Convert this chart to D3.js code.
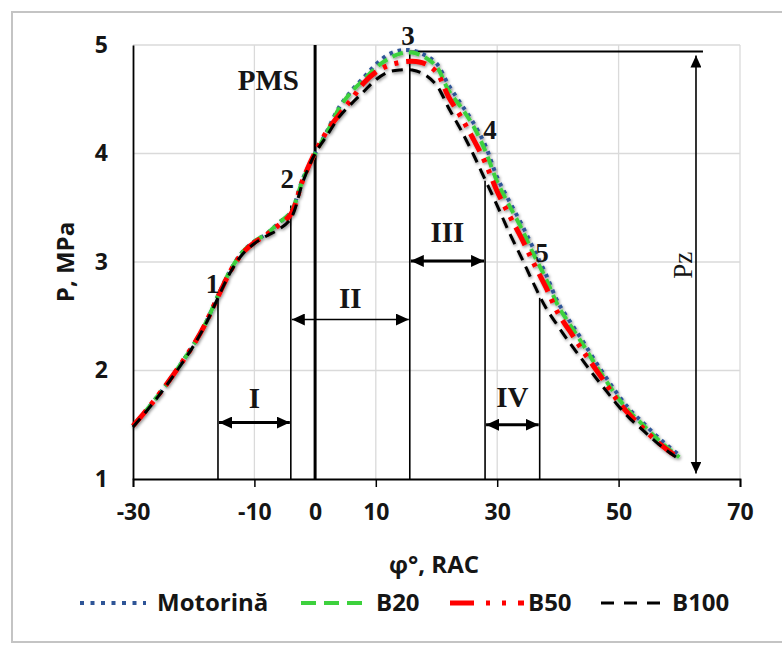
<!DOCTYPE html>
<html><head><meta charset="utf-8">
<script src="https://cdn.jsdelivr.net/npm/d3@7"></script>
<style>
html,body{margin:0;padding:0;background:#fff;}
svg{display:block;}
.lab{font-family:"Open Sans",sans-serif;font-weight:700;fill:#151515;}
.ser{font-family:"Liberation Serif","Times New Roman",serif;font-weight:700;fill:#151515;}
</style></head>
<body>
<svg id="c" width="782" height="646"></svg>
<script>
// ---- data ----
const phi = [-30,-28,-26,-24,-22,-20,-18,-16,-14,-12,-10,-8,-6,-4,-2,0,
  2,4,6,8,10,12,14,16,18,20,22,24,26,28,30,32,34,36,38,40,42,44,46,48,50,52,54,56,58,60];
const motorina = [1.49,1.62,1.76,1.91,2.07,2.24,2.44,2.69,2.92,3.09,3.19,3.26,3.36,3.46,3.77,4.00,
  4.21,4.43,4.58,4.70,4.82,4.91,4.95,4.95,4.91,4.83,4.63,4.46,4.29,4.08,3.78,3.56,3.35,3.12,2.89,2.63,2.45,2.28,2.10,1.93,1.77,1.63,1.52,1.41,1.31,1.22];
const b20 = [1.49,1.62,1.76,1.91,2.07,2.24,2.44,2.69,2.92,3.09,3.19,3.26,3.36,3.46,3.76,4.00,
  4.20,4.42,4.57,4.68,4.79,4.87,4.92,4.93,4.89,4.80,4.58,4.43,4.26,4.03,3.74,3.52,3.31,3.07,2.85,2.60,2.42,2.25,2.07,1.90,1.74,1.61,1.50,1.39,1.29,1.20];
const b50 = [1.49,1.62,1.76,1.91,2.07,2.24,2.44,2.68,2.91,3.08,3.18,3.25,3.34,3.44,3.76,4.01,
  4.21,4.36,4.50,4.65,4.75,4.81,4.84,4.85,4.83,4.75,4.52,4.34,4.14,3.92,3.65,3.43,3.22,2.99,2.77,2.53,2.36,2.19,2.03,1.87,1.71,1.58,1.47,1.36,1.27,1.19];
const b100 = [1.48,1.61,1.75,1.90,2.06,2.23,2.43,2.67,2.90,3.07,3.17,3.24,3.30,3.40,3.74,4.00,
  4.17,4.34,4.46,4.57,4.68,4.75,4.77,4.77,4.73,4.63,4.42,4.22,4.00,3.76,3.52,3.27,3.04,2.80,2.58,2.41,2.25,2.10,1.95,1.81,1.67,1.55,1.45,1.35,1.26,1.18];
const seriesNames = ["Motorină","B20","B50","B100"];
const xTicks = [-30,-10,0,10,30,50,70];
const xGrid = [-10,10,30,50,70];
const yTicks = [1,2,3,4,5];
// annotation points (phase boundaries)
const markPhi = [-16,-4,15.6,28,37];
const markP = [2.70,3.52,4.94,3.75,2.67];
const markLabels = ["1","2","3","4","5"];
const markLabelPhi = [-16.9,-4.6,15.3,28.8,37.4];
const markLabelP = [2.80,3.77,5.09,4.22,3.09];
const phaseNames = ["I","II","III","IV"];
const phaseFrom = [-16,-4,15.6,28];
const phaseTo = [-4,15.6,28,37];
const phaseP = [1.52,2.47,3.01,1.50];
const phaseLabelP = [1.75,2.67,3.28,1.76];
const pzPhi = 62.75, pzTop = 4.94, pzBottom = 1.05, pzLineEnd = 63.9;

// ---- chart ----
const svg = d3.select("#c");
const x = d3.scaleLinear().domain([-30,70]).range([133,740]);
const y = d3.scaleLinear().domain([1,5]).range([479,45]);
const fmt = d => String(d);

svg.append("rect").attr("x",12).attr("y",12).attr("width",800).attr("height",630)
  .attr("fill","none").attr("stroke","#C4C4C4").attr("stroke-width",2);

const defs = svg.append("defs");
const f = defs.append("filter").attr("id","sh").attr("x","-10%").attr("y","-10%").attr("width","120%").attr("height","120%");
f.append("feDropShadow").attr("dx",1).attr("dy",1.5).attr("stdDeviation",1.6).attr("flood-color","#000").attr("flood-opacity",0.45);
function marker(id, len, wid){
  const m = defs.append("marker").attr("id",id).attr("markerUnits","userSpaceOnUse")
    .attr("viewBox",`0 0 ${len} ${wid}`).attr("refX",len).attr("refY",wid/2)
    .attr("markerWidth",len).attr("markerHeight",wid).attr("orient","auto-start-reverse");
  m.append("path").attr("d",`M0,0L${len},${wid/2}L0,${wid}Z`).attr("fill","#000");
}
marker("ah",13,12);
marker("ahs",12,11);

// grid
svg.append("g").selectAll("line").data(xGrid).join("line")
  .attr("x1",d=>x(d)).attr("x2",d=>x(d)).attr("y1",y(1)).attr("y2",y(5))
  .attr("stroke","#DADADA").attr("stroke-width",1.3);
svg.append("g").selectAll("line").data(yTicks.filter(d=>d>1)).join("line")
  .attr("x1",x(-30)).attr("x2",x(70)).attr("y1",d=>y(d)).attr("y2",d=>y(d))
  .attr("stroke","#DADADA").attr("stroke-width",1.3);

// axes
const xa = svg.append("g").attr("transform",`translate(0,${y(1)})`)
  .call(d3.axisBottom(x).tickValues(xTicks).tickSize(8).tickPadding(17).tickFormat(fmt));
xa.select(".domain").attr("stroke","#000").attr("stroke-width",1.8);
xa.selectAll(".tick line").attr("stroke","#000").attr("stroke-width",1.5).attr("opacity",d=>d===0?0:1);
xa.selectAll("text").attr("class","lab").style("font-size","23px").attr("font-family",null).attr("font-size",null);

const ya = svg.append("g").attr("transform",`translate(${x(-30)},0)`)
  .call(d3.axisLeft(y).tickValues(yTicks).tickSize(0).tickPadding(25).tickFormat(fmt));
ya.select(".domain").attr("stroke","#000").attr("stroke-width",1.8);
ya.selectAll("text").attr("class","lab").style("font-size","23px").attr("font-family",null).attr("font-size",null);

// vertical phase lines
svg.append("g").selectAll("line").data(markPhi).join("line")
  .attr("x1",d=>x(d)).attr("x2",d=>x(d)).attr("y1",y(1)).attr("y2",(d,i)=>y(markP[i]))
  .attr("stroke","#000").attr("stroke-width",1.6);
// PMS line
svg.append("line").attr("x1",x(0)).attr("x2",x(0)).attr("y1",y(1)).attr("y2",y(5))
  .attr("stroke","#000").attr("stroke-width",3);
// Pz horizontal + arrow
svg.append("line").attr("x1",x(markPhi[2])).attr("x2",x(pzLineEnd)).attr("y1",y(pzTop)).attr("y2",y(pzTop))
  .attr("stroke","#000").attr("stroke-width",1.8);
svg.append("line").attr("x1",x(pzPhi)).attr("x2",x(pzPhi)).attr("y1",y(pzTop)+4).attr("y2",y(pzBottom))
  .attr("stroke","#000").attr("stroke-width",1.6)
  .attr("marker-start","url(#ahs)").attr("marker-end","url(#ahs)");
svg.append("text").attr("class","ser").style("font-weight","400").style("font-size","27px")
  .attr("transform",`translate(${x(60.6)},${y(2.97)}) rotate(-90)`).attr("text-anchor","middle").attr("dy","0.35em")
  .text("Pz");

// phase arrows
svg.append("g").selectAll("line").data(phaseNames).join("line")
  .attr("x1",(d,i)=>x(phaseFrom[i])+1).attr("x2",(d,i)=>x(phaseTo[i])-1)
  .attr("y1",(d,i)=>y(phaseP[i])).attr("y2",(d,i)=>y(phaseP[i]))
  .attr("stroke","#000").attr("stroke-width",(d,i)=>i===1?1.6:3)
  .attr("marker-start","url(#ah)").attr("marker-end","url(#ah)");
svg.append("g").selectAll("text").data(phaseNames).join("text").attr("class","ser")
  .style("font-size","29px").attr("text-anchor","middle").attr("dy","0.35em")
  .attr("x",(d,i)=>x((phaseFrom[i]+phaseTo[i])/2)).attr("y",(d,i)=>y(phaseLabelP[i])).text(d=>d);

// series
const cols = ["#2F5597","#3DD13D","#FF0000","#000000"];
const widths = [4,4,5,3];
const dashes = ["3.5,5","11,6","20,8,4,8,4,8","11,7"];
const vals = [motorina,b20,b50,b100];
const line = d3.line().x(d=>x(d[0])).y(d=>y(d[1])).curve(d3.curveCatmullRom);
const sg = svg.append("g").attr("filter","url(#sh)");
vals.forEach((v,i)=>{
  sg.append("path").datum(phi.map((p,j)=>[p,v[j]])).attr("d",line)
    .attr("fill","none").attr("stroke",cols[i]).attr("stroke-width",widths[i])
    .attr("stroke-dasharray",dashes[i]);
});

// point labels
svg.append("g").selectAll("text").data(markLabels).join("text").attr("class","ser")
  .style("font-size","27px").attr("text-anchor","middle").attr("dy","0.35em")
  .attr("x",(d,i)=>x(markLabelPhi[i])).attr("y",(d,i)=>y(markLabelP[i])).text(d=>d);
svg.append("text").attr("class","ser").style("font-size","29px").attr("text-anchor","middle").attr("dy","0.35em")
  .attr("x",x(-7.7)).attr("y",y(4.68)).text("PMS");

// axis titles
svg.append("text").attr("class","lab").style("font-size","24px").attr("text-anchor","middle")
  .attr("x",434).attr("y",573).text("φ°, RAC");
svg.append("text").attr("class","lab").style("font-size","24px").attr("text-anchor","middle")
  .attr("transform",`translate(74,262) rotate(-90)`).text("P, MPa");

// legend
const legSx = [80,301,450,601];
const legEx = [146,366,524,668];
const legTx = [157,376,528,672];
const lg = svg.append("g");
seriesNames.forEach((n,i)=>{
  lg.append("line").attr("x1",legSx[i]).attr("x2",legEx[i]).attr("y1",603).attr("y2",603)
    .attr("stroke",cols[i]).attr("stroke-width",widths[i])
    .attr("stroke-dasharray",i===0?"4,6.5":i===1?"15,8":i===2?"24,12,4,12,4,12":"13,10");
  lg.append("text").attr("class","lab").style("font-size","24px").attr("x",legTx[i]).attr("y",603).attr("dy","0.35em").text(n);
});
</script>
</body></html>
